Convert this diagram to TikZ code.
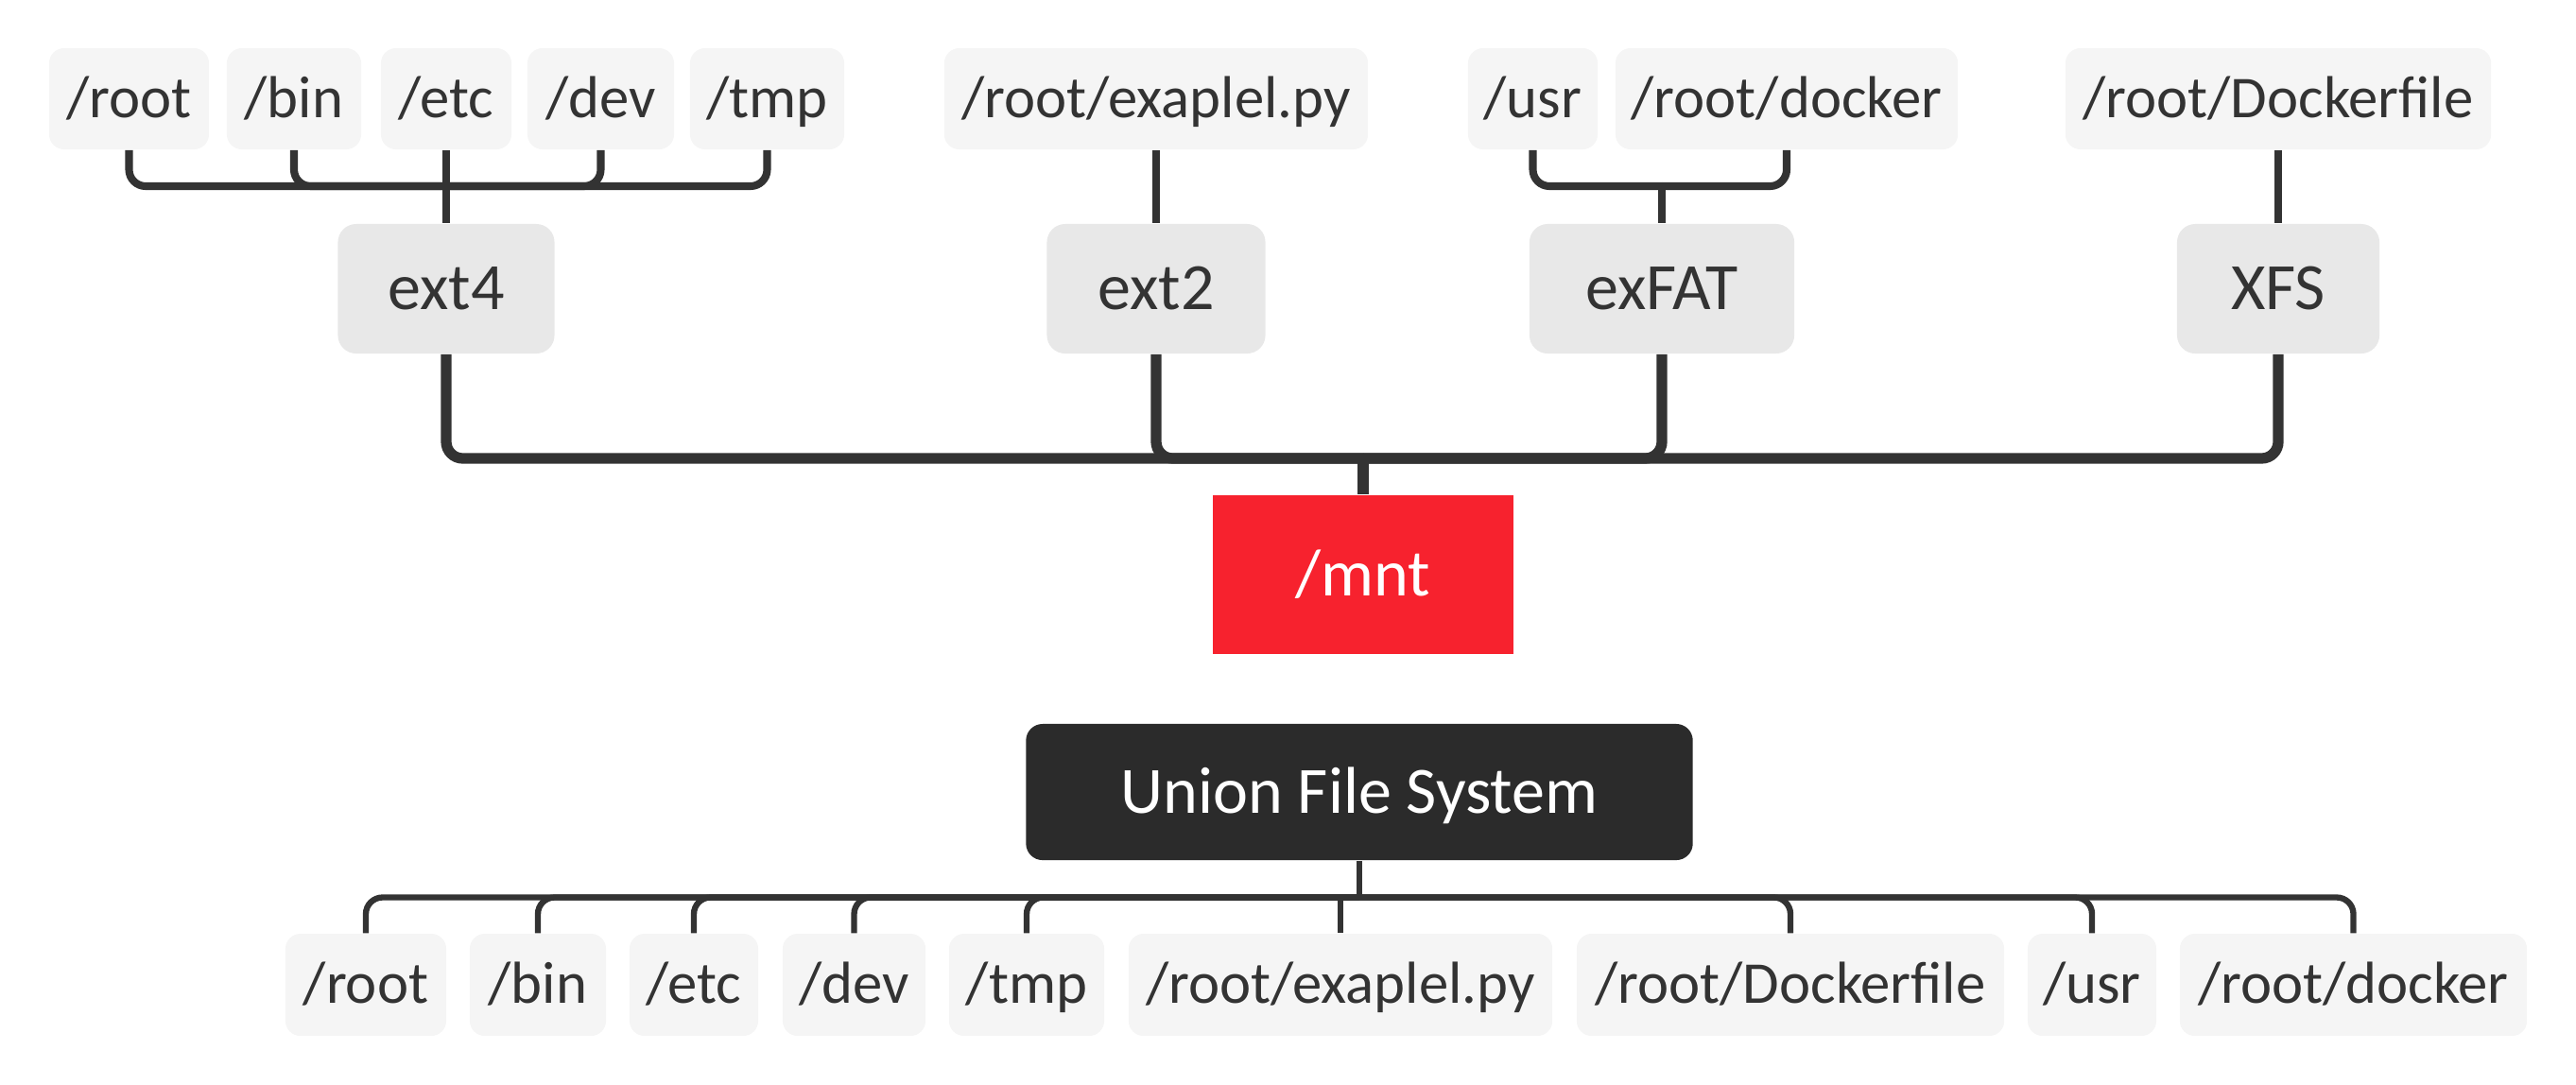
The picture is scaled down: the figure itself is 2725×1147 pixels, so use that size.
\documentclass[tikz,border=0pt]{standalone}
\usepackage{fontspec}
\setmainfont{Carlito}
\definecolor{linec}{HTML}{333333}
\definecolor{txtc}{HTML}{333333}
\definecolor{leafc}{HTML}{F5F5F5}
\definecolor{midc}{HTML}{E8E8E8}
\definecolor{redc}{HTML}{F7222E}
\definecolor{darkc}{HTML}{2B2B2B}
\begin{document}
\begin{tikzpicture}[x=0.01cm,y=-0.01cm,
  leaf/.style={rectangle, rounded corners=4.5pt, fill=leafc, text=txtc, inner sep=0pt,
    font=\fontsize{17.84}{20}\selectfont, text height=11.3pt, text depth=0pt, minimum height=1.07cm},
  leafb/.style={leaf, minimum height=1.08cm},
  mid/.style={rectangle, rounded corners=5.5pt, fill=midc, text=txtc, inner sep=0pt,
    font=\fontsize{19.92}{22}\selectfont, text height=12.6pt, text depth=0pt, minimum height=1.37cm},
  mntbox/.style={rectangle, fill=redc, text=white, inner sep=0pt,
    font=\fontsize{19.92}{22}\selectfont, text height=12.6pt, text depth=0pt,
    minimum width=3.18cm, minimum height=1.68cm},
  ufsbox/.style={rectangle, rounded corners=5pt, fill=darkc, text=white, inner sep=0pt,
    font=\fontsize{19.92}{22}\selectfont, text height=12.6pt, text depth=0pt,
    minimum width=7.05cm, minimum height=1.44cm},
  tline/.style={draw=linec, line width=2.3pt, rounded corners=5pt},
  mline/.style={draw=linec, line width=3.2pt, rounded corners=5pt},
  bline/.style={draw=linec, line width=1.8pt, rounded corners=5pt}]
\useasboundingbox (0,0) rectangle (2725,1147);

% top leaves
\node[leaf, minimum width=1.69cm] (rootT) at (136.5,104.5) {/root};
\node[leaf, minimum width=1.42cm] (binT) at (311,104.5) {/bin};
\node[leaf, minimum width=1.38cm] (etcT) at (472,104.5) {/etc};
\node[leaf, minimum width=1.55cm] (devT) at (635.5,104.5) {/dev};
\node[leaf, minimum width=1.63cm] (tmpT) at (811.5,104.5) {/tmp};
\node[leaf, minimum width=4.48cm] (exaT) at (1223,104.5) {/root/exaplel.py};
\node[leaf, minimum width=1.37cm] (usrT) at (1621.5,104.5) {/usr};
\node[leaf, minimum width=3.62cm] (dockT) at (1890,104.5) {/root/docker};
\node[leaf, minimum width=4.50cm] (dfT) at (2410,104.5) {/root/Dockerfile};

% file systems
\node[mid, minimum width=2.29cm] (ext4) at (472,305.5) {ext4};
\node[mid, minimum width=2.31cm] (ext2) at (1223,305.5) {ext2};
\node[mid, minimum width=2.80cm] (exfat) at (1758,305.5) {exFAT};
\node[mid, minimum width=2.14cm] (xfs) at (2410,305.5) {XFS};

% mnt and union
\node[mntbox] (mnt) at (1442,608) {/mnt};
\node[ufsbox] (ufs) at (1438,838) {Union File System};

% bottom leaves
\node[leafb, minimum width=1.70cm] (rootB) at (387,1042) {/root};
\node[leafb, minimum width=1.44cm] (binB) at (569,1042) {/bin};
\node[leafb, minimum width=1.36cm] (etcB) at (734,1042) {/etc};
\node[leafb, minimum width=1.51cm] (devB) at (903.5,1042) {/dev};
\node[leafb, minimum width=1.64cm] (tmpB) at (1086,1042) {/tmp};
\node[leafb, minimum width=4.48cm] (exaB) at (1418,1042) {/root/exaplel.py};
\node[leafb, minimum width=4.52cm] (dfB) at (1894,1042) {/root/Dockerfile};
\node[leafb, minimum width=1.36cm] (usrB) at (2213,1042) {/usr};
\node[leafb, minimum width=3.67cm] (dockB) at (2489.5,1042) {/root/docker};

% hubs
\coordinate (h4) at (472,197);
\coordinate (hx) at (1758,197);
\coordinate (hm) at (1442,485);
\coordinate (hb) at (1438,949.5);

% top groups
\draw[tline] (rootT.south) |- (h4);
\draw[tline] (binT.south) |- (h4);
\draw[tline] (devT.south) |- (h4);
\draw[tline] (tmpT.south) |- (h4);
\draw[tline] (etcT.south) -- (ext4.north);
\draw[tline] (exaT.south) -- (ext2.north);
\draw[tline] (usrT.south) |- (hx);
\draw[tline] (dockT.south) |- (hx);
\draw[tline] (hx) -- (exfat.north);
\draw[tline] (dfT.south) -- (xfs.north);

% main bus
\draw[mline] (ext4.south) |- (hm);
\draw[mline] (ext2.south) |- (hm);
\draw[mline] (exfat.south) |- (hm);
\draw[mline] (xfs.south) |- (hm);
\draw[mline] (hm) -- (mnt.north);

% bottom bus
\draw[bline] (ufs.south) -- (hb);
\draw[bline] (hb) -| (rootB.north);
\draw[bline] (hb) -| (binB.north);
\draw[bline] (hb) -| (etcB.north);
\draw[bline] (hb) -| (devB.north);
\draw[bline] (hb) -| (tmpB.north);
\draw[bline] (exaB.north) -- (exaB.north |- hb);
\draw[bline] (hb) -| (dfB.north);
\draw[bline] (hb) -| (usrB.north);
\draw[bline] (hb) -| (dockB.north);
\end{tikzpicture}
\end{document}
